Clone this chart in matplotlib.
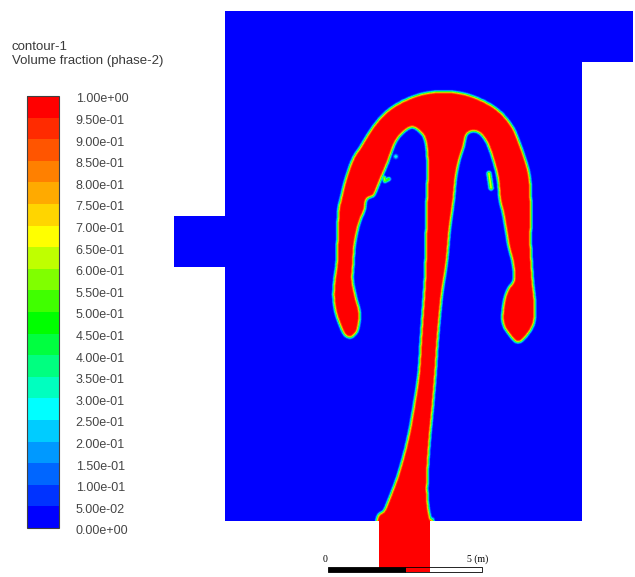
import numpy as np
import matplotlib
matplotlib.use("Agg")
import matplotlib.pyplot as plt
from matplotlib.path import Path
from matplotlib.patches import PathPatch, Rectangle
from matplotlib.colors import ListedColormap, BoundaryNorm
from matplotlib.transforms import ScaledTranslation

plt.rcParams["font.family"] = ["Liberation Sans", "DejaVu Sans"]

# ---------------- data ----------------
title_lines = ["contour-1", "Volume fraction (phase-2)"]
levels = np.linspace(0.0, 1.0, 21)
tick_labels = ["%.2e" % v for v in levels]

# Fluent banded colormap (bottom band -> top band)
band_colors = [
    (0, 0, 255), (0, 51, 255), (0, 102, 255), (0, 153, 255), (0, 204, 255),
    (0, 255, 255), (0, 255, 191), (0, 255, 128), (0, 255, 64), (0, 255, 0),
    (64, 255, 0), (128, 255, 0), (191, 255, 0), (255, 255, 0), (255, 213, 0),
    (255, 170, 0), (255, 128, 0), (255, 85, 0), (255, 43, 0), (255, 0, 0),
]

# computational domain outline (m)
domain_x = [1.65, 3.30, 3.30, 8.25, 8.25, 9.90, 9.90, -3.35, -3.35, -5.00, -5.00, -3.35, -3.35, 1.65]
domain_y = [0.00, 0.00, 1.65, 1.65, 16.55, 16.55, 18.20, 18.20, 11.55, 11.55, 9.90, 9.90, 1.65, 1.65]

# phase-2 interface (alpha = 0.5 contour), m
plume_x = [1.55, 1.55, 1.79, 1.95, 2.27, 2.56, 2.76, 2.92, 2.99, 3.05, 3.12, 3.15, 3.18, 3.21,
           3.18, 3.12, 2.99, 2.73, 2.50, 2.27, 2.11, 1.92, 1.69, 1.49, 1.43, 1.23, 1.17, 1.04,
           0.94, 0.84, 0.81, 0.78, 0.88, 1.01, 0.97, 0.88, 0.71, 0.52, 0.39, 0.23, 0.16, 0.19,
           0.26, 0.29, 0.32, 0.39, 0.55, 0.78, 1.04, 1.43, 1.85, 2.34, 2.99, 3.73, 4.45, 5.10,
           5.58, 5.97, 6.23, 6.43, 6.53, 6.56, 6.56, 6.56, 6.62, 6.69, 6.66, 6.40, 6.14, 5.91,
           5.65, 5.68, 5.81, 6.01, 5.97, 5.84, 5.75, 5.65, 5.55, 5.49, 5.36, 5.16, 4.94, 4.71,
           4.48, 4.38, 4.22, 4.12, 4.06, 3.93, 3.83, 3.67, 3.54, 3.47, 3.38, 3.28, 3.21, 3.21,
           3.31, 3.40, 3.40]
plume_y = [-0.30, 1.62, 1.98, 2.34, 3.21, 4.29, 5.36, 6.46, 7.53, 8.41, 9.48, 10.55, 12.08, 13.05,
           13.70, 14.03, 14.25, 14.42, 14.32, 14.09, 13.80, 13.28, 12.73, 12.24, 12.18, 12.08, 11.75, 11.43,
           11.10, 10.55, 10.03, 9.48, 8.93, 8.41, 7.95, 7.73, 7.60, 7.69, 7.95, 8.41, 8.93, 9.48,
           10.03, 11.10, 11.75, 12.08, 12.73, 13.38, 13.80, 14.42, 14.90, 15.23, 15.49, 15.58, 15.49, 15.23,
           14.90, 14.42, 13.80, 13.21, 12.73, 12.08, 11.10, 10.55, 9.48, 8.73, 8.08, 7.63, 7.44, 7.63,
           8.08, 8.73, 9.16, 9.48, 10.03, 10.55, 11.10, 11.66, 12.08, 12.73, 13.28, 13.86, 14.19, 14.29,
           14.19, 13.80, 13.28, 12.73, 12.08, 11.10, 10.03, 8.93, 7.53, 6.46, 5.36, 4.29, 3.21, 2.34,
           1.69, 1.62, -0.30]

# small detached droplets: segment ends (m), peak volume fraction, radius (m)
drop_x0 = [2.18, 1.80, 1.88, 5.20]
drop_y0 = [13.47, 12.78, 12.70, 12.92]
drop_x1 = [2.18, 1.83, 1.95, 5.27]
drop_y1 = [13.47, 12.68, 12.74, 12.45]
drop_amp = [0.32, 0.62, 0.55, 0.66]
drop_r = [0.07, 0.06, 0.06, 0.07]

scale_len = 5.0

# ---------------- smooth interface (closed Catmull-Rom) ----------------
P = np.column_stack([plume_x, plume_y])
n = len(P)
smooth = []
for i in range(n):
    p0, p1, p2, p3 = P[(i - 1) % n], P[i], P[(i + 1) % n], P[(i + 2) % n]
    for t in np.linspace(0, 1, 10, endpoint=False):
        smooth.append(0.5 * (2 * p1 + (-p0 + p2) * t + (2 * p0 - 5 * p1 + 4 * p2 - p3) * t * t
                             + (-p0 + 3 * p1 - 3 * p2 + p3) * t ** 3))
smooth = np.array(smooth)

# ---------------- field ----------------
dx = 0.02
gx = np.arange(-5.1, 10.0, dx)
gy = np.arange(-0.3, 18.35, dx)
X, Y = np.meshgrid(gx, gy)
pts = np.column_stack([X.ravel(), Y.ravel()])
field = Path(smooth).contains_points(pts).reshape(X.shape).astype(float)

sigma = 0.042 / dx
rad = int(np.ceil(3 * sigma))
kern = np.exp(-0.5 * (np.arange(-rad, rad + 1) / sigma) ** 2)
kern /= kern.sum()


def blur(a, axis):
    pad = [(0, 0), (0, 0)]
    pad[axis] = (rad, rad)
    ap = np.pad(a, pad, mode="edge")
    out = np.zeros_like(a)
    m = a.shape[axis]
    for i, w in enumerate(kern):
        sl = [slice(None), slice(None)]
        sl[axis] = slice(i, i + m)
        out += w * ap[tuple(sl)]
    return out


field = blur(blur(field, 0), 1)

for x0, y0, x1, y1, a, r in zip(drop_x0, drop_y0, drop_x1, drop_y1, drop_amp, drop_r):
    vx, vy = x1 - x0, y1 - y0
    L2 = vx * vx + vy * vy
    t = np.clip(((X - x0) * vx + (Y - y0) * vy) / L2, 0, 1) if L2 > 0 else 0.0
    d2 = (X - (x0 + t * vx)) ** 2 + (Y - (y0 + t * vy)) ** 2
    field = np.maximum(field, a * np.exp(-d2 / r ** 2))

# ---------------- figure ----------------
W, H, DPI = 635, 577, 100
fig = plt.figure(figsize=(W / DPI, H / DPI), dpi=DPI)
fig.patch.set_facecolor("white")

cmap = ListedColormap(np.array(band_colors) / 255.0)
norm = BoundaryNorm(levels, cmap.N)

ax = fig.add_axes([0, 0, 1, 1])
ax.set_xlim(-10.649, 9.968)
ax.set_ylim(-0.162, 18.571)
ax.axis("off")

im = ax.imshow(field, origin="lower", cmap=cmap, norm=norm,
               extent=[gx[0] - dx / 2, gx[-1] + dx / 2, gy[0] - dx / 2, gy[-1] + dx / 2],
               interpolation="antialiased", aspect="auto")
dom = PathPatch(Path(np.column_stack([domain_x, domain_y])), transform=ax.transData,
                facecolor="none", edgecolor="none")
ax.add_patch(dom)
im.set_clip_path(dom)

# scale bar
ax.add_patch(Rectangle((0, 0), scale_len / 2, 0.16, facecolor="black", edgecolor="black",
                       lw=0.6, zorder=5))
ax.add_patch(Rectangle((scale_len / 2, 0), scale_len / 2, 0.16, facecolor="none",
                       edgecolor="black", lw=0.6, zorder=5))
ax.text(-0.08, 0.42, "0", ha="center", va="center", fontsize=7,
        family=["Liberation Serif", "DejaVu Serif"], zorder=6)
ax.text(scale_len - 0.13, 0.42, "5 (m)", ha="center", va="center", fontsize=7,
        family=["Liberation Serif", "DejaVu Serif"], zorder=6)

# titles
fig.text(12 / W, 1 - 50 / H, title_lines[0], fontsize=9.5, color="#3a3a3a", va="baseline")
fig.text(12 / W, 1 - 64 / H, title_lines[1], fontsize=9.5, color="#3a3a3a", va="baseline")

# colour bar
cax = fig.add_axes([27 / W, 1 - 528 / H, 32 / W, 432 / H])
cb = fig.colorbar(im, cax=cax, ticks=levels, boundaries=levels, spacing="uniform")
cb.ax.set_yticklabels(tick_labels)
cb.ax.tick_params(length=0, pad=12, labelsize=9, labelcolor="#454545")
cb.outline.set_edgecolor("#404040")
cb.outline.set_linewidth(0.8)
for lab in cb.ax.get_yticklabels():
    lab.set_transform(lab.get_transform() + ScaledTranslation(0, -2 / DPI, fig.dpi_scale_trans))

fig.savefig("out.png", dpi=DPI, facecolor="white")
